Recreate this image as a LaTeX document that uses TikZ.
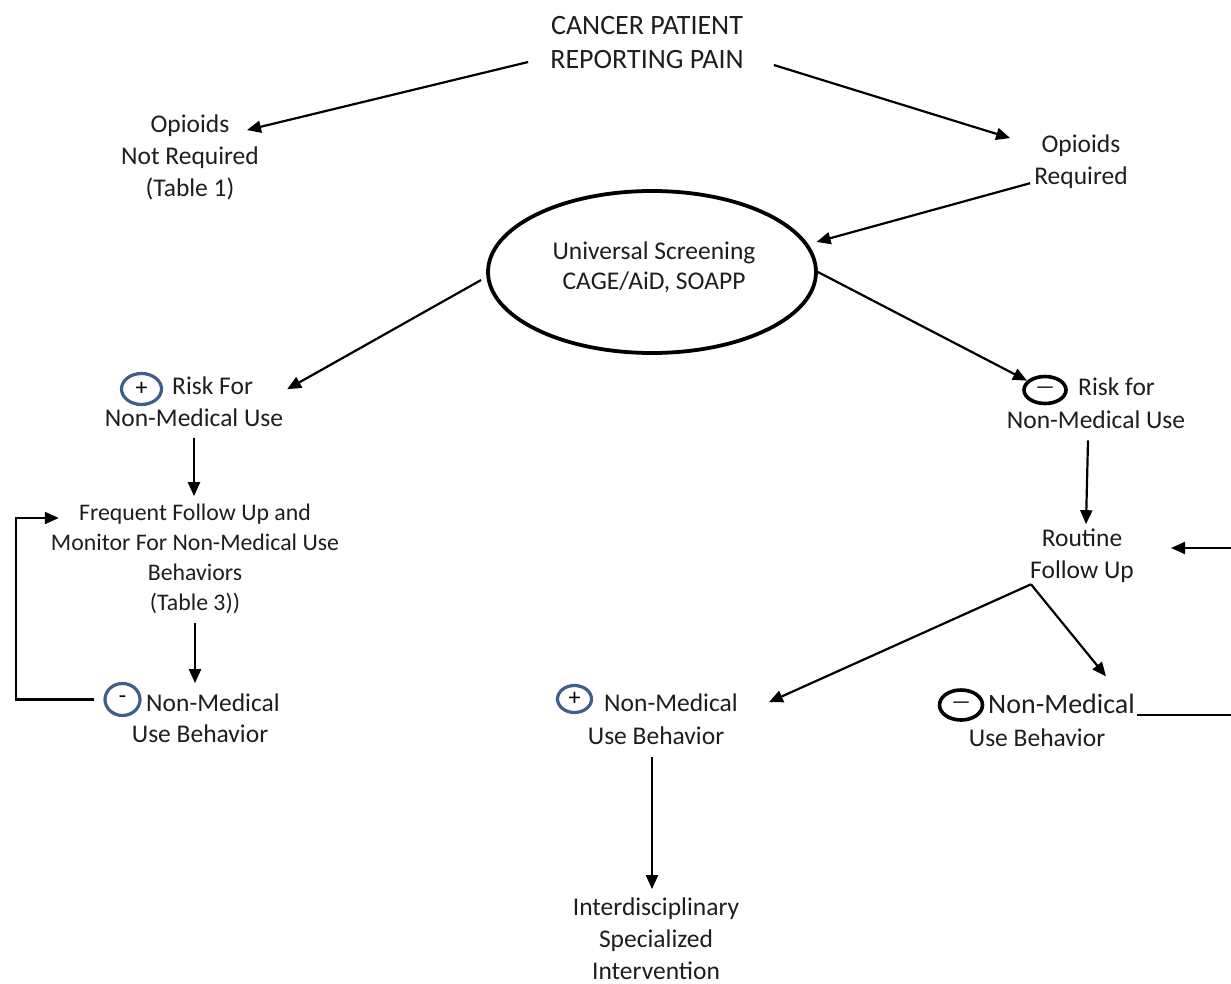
\documentclass[tikz,border=0pt]{standalone}
\usepackage{fontspec}
\setmainfont{Carlito}
\usetikzlibrary{shapes.geometric,arrows.meta,calc}
\definecolor{txtc}{HTML}{1E1E1E}
\definecolor{cblue}{HTML}{3F5E8C}
\begin{document}
\begin{tikzpicture}[x=1pt,y=-1pt,
  txt/.style={font=\fontsize{25.5}{32}\selectfont, text=txtc, inner sep=2pt, align=center},
  txtb/.style={font=\fontsize{25.5}{30}\selectfont, text=txtc, inner sep=2pt, align=center},
  txts/.style={font=\fontsize{23.8}{29.7}\selectfont, text=txtc, inner sep=2pt, align=center},
  big/.style={font=\fontsize{28}{34}\selectfont, text=txtc, inner sep=2pt, align=center},
  arr/.style={draw=black, line width=2.2pt, -{Triangle[length=14pt,width=12pt]}},
  ln/.style={draw=black, line width=1.8pt},
  pc/.style={ellipse, draw=cblue, line width=3.2pt, inner sep=0pt, text=black, font=\fontsize{24}{24}\selectfont},
  mc/.style={ellipse, draw=black, line width=3.6pt, inner sep=0pt, text=black, font=\fontsize{21}{21}\selectfont}
]
\useasboundingbox (0,0) rectangle (1231,984);
\fill[white] (0,0) rectangle (1231,984);

% nodes (base anchor = baseline of the last line)
\node[big, anchor=base] (title) at (647,69) {CANCER PATIENT\\REPORTING PAIN};
\node[txt, anchor=base] (opnr) at (190,197) {Opioids\\Not Required\\(Table 1)};
\node[txt, anchor=base] (opreq) at (1081,185) {Opioids\\Required};
\node[ellipse, draw=black, line width=3.8pt, minimum width=328pt, minimum height=162pt] (ell) at (652,272) {};
\node[txtb, anchor=base] (elltxt) at (654,290) {Universal Screening\\CAGE/AiD, SOAPP};

% + risk
\node[pc, minimum width=40pt, minimum height=31pt] (rfpc) at (141.5,389) {+};
\node[txt, anchor=base west] (rfp1) at (170,394) {Risk For};
\node[txt, anchor=base] (rfp2) at (194,426) {Non-Medical Use};

% - risk
\node[mc, minimum width=42pt, minimum height=27pt] (rfmc) at (1045,390) {\textemdash};
\node[txt, anchor=base west] (rfm1) at (1076,395) {Risk for};
\node[txt, anchor=base] (rfm2) at (1096,428) {Non-Medical Use};

% frequent follow up
\node[txts, anchor=base] (freq) at (195,610) {Frequent Follow Up and\\Monitor For Non-Medical Use\\Behaviors\\(Table 3))};

% - non-medical (left)
\node[pc, minimum width=35pt, minimum height=32pt] (nblc) at (122.5,699.5) {-};
\node[txt, anchor=base west] (nbl1) at (144,711) {Non-Medical};
\node[txt, anchor=base] (nbl2) at (200,742) {Use Behavior};

% routine
\node[txt, anchor=base] (routine) at (1082,578) {Routine\\Follow Up};

% + non-medical (middle)
\node[pc, minimum width=34pt, minimum height=27pt] (nbpc) at (574.5,699) {+};
\node[txt, anchor=base west] (nbp1) at (602,711) {Non-Medical};
\node[txt, anchor=base] (nbp2) at (656,744) {Use Behavior};

% - non-medical (right)
\node[mc, minimum width=43pt, minimum height=30pt] (nbrc) at (961,705) {\textemdash};
\node[big, anchor=base west] (nbr1) at (986,713) {Non-Medical};
\node[txt, anchor=base] (nbr2) at (1037,746) {Use Behavior};

% interdisciplinary
\node[txt, anchor=base] (inter) at (656,979) {Interdisciplinary\\Specialized\\Intervention};

% helper coordinates
\coordinate (loopL) at (16,518);
\coordinate (redgeT) at (1231,548);
\coordinate (redgeB) at (1231,715);
\coordinate (rs) at ([xshift=3pt]routine.south west);

% connectors
\draw[arr] ([xshift=-20pt,yshift=-19pt]title.west) -- ([xshift=-14pt,yshift=-17pt]opnr.north east);
\draw[arr] ([xshift=28pt,yshift=-22pt]title.east) -- ([xshift=-22pt,yshift=-5pt]opreq.north west);
\draw[arr] ([xshift=-2pt,yshift=-21pt]opreq.west) -- ([xshift=10pt]ell.11);
\draw[arr] ([xshift=-5pt,yshift=-8pt]ell.west) -- ([xshift=32pt,yshift=-4pt]rfp1.east);
\draw[arr] (ell.east) -- (rfmc);
\draw[arr] ([yshift=-10pt]rfp2.south) -- ([yshift=6pt]rfp2.south |- freq.north);
\draw[arr] ([yshift=-7pt]freq.south) -- ([yshift=8pt]freq.south |- nbl1.north);
\draw[arr] ([xshift=-9pt]nblc.west) -| (loopL) -- ([xshift=10pt]freq.west |- loopL);
\draw[arr] ([xshift=-8pt,yshift=-10pt]rfm2.south) -- ([xshift=4pt,yshift=2pt]routine.north);
\draw[arr] (rs) -- ([xshift=29pt]nbp1.east);
\draw[arr] (rs) -- ([xshift=-31pt,yshift=15pt]nbr1.north east);
\draw[ln] ([yshift=-2pt]nbr1.base east) -- (redgeB);
\draw[arr] (redgeT) -- ([xshift=35pt]routine.east |- redgeT);
\draw[arr] ([xshift=-4pt,yshift=-11pt]nbp2.south) -- ([xshift=-4pt,yshift=6pt]inter.north);
\end{tikzpicture}
\end{document}
